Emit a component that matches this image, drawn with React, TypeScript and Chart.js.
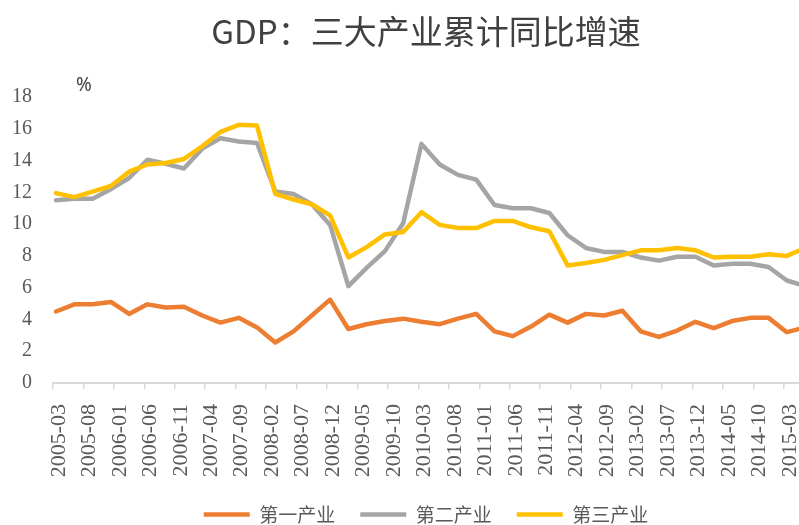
import { useEffect, useRef } from 'react';
import { Chart, registerables } from 'chart.js';

Chart.register(...registerables);

const chartTitle = 'GDP：三大产业累计同比增速';
const unitLabel = '%';
const seriesNames = ['第一产业', '第二产业', '第三产业'];

const quarters = [
  '2005-03', '2005-06', '2005-09', '2005-12',
  '2006-03', '2006-06', '2006-09', '2006-12',
  '2007-03', '2007-06', '2007-09', '2007-12',
  '2008-03', '2008-06', '2008-09', '2008-12',
  '2009-03', '2009-06', '2009-09', '2009-12',
  '2010-03', '2010-06', '2010-09', '2010-12',
  '2011-03', '2011-06', '2011-09', '2011-12',
  '2012-03', '2012-06', '2012-09', '2012-12',
  '2013-03', '2013-06', '2013-09', '2013-12',
  '2014-03', '2014-06', '2014-09', '2014-12',
  '2015-03', '2015-06',
];

const primary = [
  4.5, 4.95, 4.95, 5.1,
  4.35, 4.95, 4.75, 4.8,
  4.25, 3.8, 4.1, 3.5,
  2.55, 3.25, 4.25, 5.25,
  3.4, 3.7, 3.9, 4.05,
  3.85, 3.7, 4.05, 4.35,
  3.25, 2.95, 3.55, 4.3,
  3.8, 4.35, 4.25, 4.55,
  3.25, 2.9, 3.3, 3.85,
  3.45, 3.9, 4.1, 4.1,
  3.2, 3.5,
];

const secondary = [
  11.5, 11.6, 11.6, 12.2,
  12.9, 14.05, 13.8, 13.5,
  14.75, 15.4, 15.2, 15.1,
  12.05, 11.9, 11.25, 9.95,
  6.1, 7.25, 8.3, 10.05,
  15.05, 13.75, 13.1, 12.8,
  11.2, 11.0, 11.0, 10.7,
  9.3, 8.5, 8.25, 8.25,
  7.9, 7.7, 7.95, 7.95,
  7.4, 7.5, 7.5, 7.3,
  6.45, 6.1,
];

const tertiary = [
  11.95, 11.7, 12.05, 12.4,
  13.3, 13.75, 13.85, 14.1,
  14.9, 15.8, 16.25, 16.2,
  11.9, 11.55, 11.25, 10.55,
  7.9, 8.55, 9.35, 9.5,
  10.75, 9.95, 9.75, 9.75,
  10.2, 10.2, 9.8, 9.55,
  7.4, 7.55, 7.75, 8.05,
  8.35, 8.35, 8.5, 8.35,
  7.9, 7.95, 7.95, 8.1,
  8.0, 8.5,
];

const xTickLabels = [
  '2005-03', '2005-08', '2006-01', '2006-06', '2006-11',
  '2007-04', '2007-09', '2008-02', '2008-07', '2008-12',
  '2009-05', '2009-10', '2010-03', '2010-08', '2011-01',
  '2011-06', '2011-11', '2012-04', '2012-09', '2013-02',
  '2013-07', '2013-12', '2014-05', '2014-10', '2015-03',
];

const yTicks = [0, 2, 4, 6, 8, 10, 12, 14, 16, 18];

const colors = ['#ED7D31', '#A5A5A5', '#FFC000'];

// months elapsed since the first period
const monthIndex = (s: string) =>
  (Number(s.slice(0, 4)) - Number(quarters[0].slice(0, 4))) * 12 +
  Number(s.slice(5, 7)) - Number(quarters[0].slice(5, 7));

const toPoints = (vals: number[]) => vals.map((v, i) => ({ x: monthIndex(quarters[i]), y: v }));

const unitPlugin = {
  id: 'unitLabel',
  afterDraw(chart: any) {
    const ctx = chart.ctx;
    ctx.save();
    ctx.font = '19px "Noto Sans", sans-serif';
    ctx.fillStyle = '#404040';
    ctx.textAlign = 'center';
    ctx.textBaseline = 'middle';
    ctx.fillText(unitLabel, 84, 86);
    ctx.restore();
  },
};

export default function App() {
  const ref = useRef<HTMLCanvasElement>(null);

  useEffect(() => {
    const seriesData = [primary, secondary, tertiary];
    const chart = new Chart(ref.current as HTMLCanvasElement, {
      type: 'line',
      data: {
        datasets: seriesData.map((vals, i) => ({
          label: seriesNames[i],
          data: toPoints(vals),
          borderColor: colors[i],
          backgroundColor: colors[i],
          borderWidth: 4.5,
          pointRadius: 0,
          pointHoverRadius: 0,
          tension: 0,
          fill: false,
          borderJoinStyle: 'round' as const,
          borderCapStyle: 'round' as const,
          order: 2 - i,
        })),
      },
      options: {
        responsive: false,
        animation: false,
        devicePixelRatio: 1,
        events: [],
        layout: { padding: 0 },
        plugins: {
          title: {
            display: true,
            text: chartTitle,
            fullSize: false,
            color: '#404040',
            font: { family: '"Noto Sans CJK SC", sans-serif', size: 33, weight: 'normal' },
            padding: { top: 12, bottom: 45.4 },
          },
          legend: {
            display: true,
            position: 'bottom',
            fullSize: false,
            labels: {
              usePointStyle: true,
              pointStyle: 'line',
              pointStyleWidth: 46,
              padding: 25,
              color: '#595959',
              font: { family: '"Noto Sans CJK SC", sans-serif', size: 19 },
              sort: (a: any, b: any) => a.datasetIndex - b.datasetIndex,
            },
          },
          tooltip: { enabled: false },
        },
        scales: {
          x: {
            type: 'linear',
            min: -0.5,
            max: 122,
            afterBuildTicks: (scale: any) => {
              scale.ticks = xTickLabels.map((l) => ({ value: monthIndex(l) - 0.5 }));
            },
            afterFit: (scale: any) => {
              scale.height = 97;
              scale.paddingLeft = 0;
              scale.paddingRight = 0;
            },
            grid: {
              display: true,
              drawOnChartArea: false,
              drawTicks: true,
              tickLength: 6,
              color: '#D9D9D9',
              lineWidth: 1.5,
            },
            border: { display: true, color: '#D9D9D9', width: 2 },
            ticks: {
              autoSkip: false,
              minRotation: 90,
              maxRotation: 90,
              labelOffset: 6,
              padding: 15,
              color: '#595959',
              font: { family: '"Liberation Serif", serif', size: 22 },
              callback: (_v: any, i: number) => xTickLabels[i],
            },
          },
          y: {
            type: 'linear',
            min: yTicks[0],
            max: yTicks[yTicks.length - 1],
            afterBuildTicks: (scale: any) => {
              scale.ticks = yTicks.map((v) => ({ value: v }));
            },
            afterFit: (scale: any) => {
              scale.width = 53;
            },
            grid: { display: false, drawTicks: false },
            border: { display: false },
            ticks: {
              padding: 21,
              color: '#595959',
              font: { family: '"Liberation Serif", serif', size: 20 },
            },
          },
        },
      },
      plugins: [unitPlugin],
    } as any);
    return () => chart.destroy();
  }, []);

  return (
    <div
      style={{
        position: 'fixed',
        left: 0,
        top: 0,
        width: 799,
        height: 525,
        overflow: 'hidden',
        background: '#ffffff',
      }}
    >
      <canvas ref={ref} width={799} height={534} style={{ display: 'block', width: 799, height: 534 }} />
    </div>
  );
}
